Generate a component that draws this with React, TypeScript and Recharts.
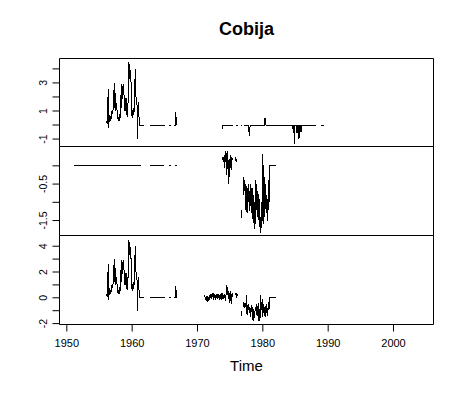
import { LineChart, Line, XAxis, YAxis, ReferenceArea } from 'recharts'

// time axis shared by all three panels
const xDomain: [number, number] = [1948.88, 2006.12]
const yearTicks = [1950, 1960, 1970, 1980, 1990, 2000]

// monthly values, Feb 1956 - Feb 1961 (same in top and bottom panel)
const early = [
  0.3, 0.1, 0.5, 2.6, -0.2, 0.6, 0.7, 0.5, 0.3, 0.9,
  1.0, 0.8, 1.1, 1.2, 3.0, 1.2, 2.3, 1.0, 1.6, 1.1,
  0.9, 0.4, 0.6, 0.3, 0.8, 0.5, 1.0, 2.9, 1.2, 2.8,
  2.0, 2.9, 2.3, 1.0, 1.6, 1.9, 0.7, 1.9, 0.6, 1.3,
  1.9, 4.5, 3.8, 3.3, 3.9, 3.0, 1.2, 0.5, 0.8, 1.2,
  0.7, 1.3, 3.0, 4.0, 2.0, 1.8, 1.4, -1.0, 1.6, 1.6,
  0.0,
]
const spike1966 = [0, 0, 0, 0.95, 0.2, 0]
const topDip1978 = [0, -0.8, -0.3, 0]
const topBump1980 = [0, 0.5, 0.15, 0]
const topDips1985 = [0, -0.6, 0, -1.35, 0, 0, 0, -0.55, -0.55, 0, 0, -0.95, -0.9, 0, 0, -0.45, -0.45, 0]

const midA = [0.15, 0.25, 0.1, 0.3, -0.05, 0.4, 0.1, 0.35, -0.25, 0.4, 0.05, -0.5, 0.2, -0.3, 0.3, 0.0, -0.1, 0.25, 0.15, 0.2]
const midB = [
  -0.3, -0.8, -0.4, -0.7, -0.5, -1.2, -0.55, -1.3, -0.6, -1.0,
  -0.5, -1.25, -0.7, -1.1, -0.5, -0.9, -1.28, -0.6, -1.5, -0.8,
  -1.73, -1.0, -1.6, -0.4, -1.2, -0.5, -1.4, -0.7, -1.1, -1.5,
  -0.9, -1.84, -1.4, -1.7, -1.0, -1.5, 0.33, -0.6, -1.6, -0.3,
  -0.9, -0.5, -1.3, -0.8, -1.5, -0.9, -1.2, -0.4, -1.0, 0.0,
]

const botA = [
  0.2, 0.0, -0.1, 0.15, -0.2, -0.3, 0.1, -0.1, -0.25, 0.2,
  -0.05, 0.3, -0.1, 0.25, 0.05, 0.4, -0.15, 0.35, 0.0, 0.3,
  -0.2, 0.2, 0.1, 0.3, -0.1, 0.25, 0.0, 0.2, -0.2, 0.15,
  0.3, -0.15, 0.4, 0.1, -0.1, 0.2, 0.05, 0.3, -0.25, 0.1,
  0.45, 1.0, 0.2, 0.6, -0.1, 0.4, -0.4, 0.5, 0.1, -0.5,
  0.3, 0.2, 0.4,
]
const botB = [
  -0.3, -0.7, -0.4, -0.8, -0.5, -0.6, 0.25, -1.3, -0.6, -0.9,
  -0.5, -1.2, -0.7, -1.5, -0.8, -1.1, -0.6, -1.7, -0.9, -1.8,
  -1.2, -1.6, -0.7, -1.0, -0.5, -1.3, -0.6, -1.4, -0.4, -1.8,
  -0.9, -1.6, 0.25, -0.9, -0.3, -1.5, -0.1, -1.2, -0.6, -1.4,
  -0.9, -1.5, -0.5, -1.2, -0.8, -1.4, -0.6, -0.3, -0.9, 0.0,
]

type Pair = [number, number]
type Pt = { t: number; v: number | null }

const monthly = (start: number, vals: number[]): Pair[] =>
  vals.map((v, i) => [start + i / 12, v] as Pair)

// join segments, a null point between them leaves a gap (NA)
function build(segs: Pair[][]): Pt[] {
  const out: Pt[] = []
  segs.forEach((s, i) => {
    if (i > 0) {
      const prev = segs[i - 1][segs[i - 1].length - 1][0]
      out.push({ t: (prev + s[0][0]) / 2, v: null })
    }
    s.forEach(([t, v]) => out.push({ t, v }))
  })
  return out
}

const topData = build([
  [...monthly(1956.08, early), [1961.75, 0]],
  [[1962.67, 0], [1965.0, 0]],
  [[1965.67, 0], [1966.0, 0]],
  monthly(1966.42, spike1966),
  [...monthly(1973.83, [-0.3, 0]), [1975.42, 0]],
  [[1975.83, 0], [1976.17, 0]],
  [[1976.67, 0], [1976.83, 0]],
  [
    [1977.17, 0],
    ...monthly(1977.83, topDip1978),
    ...monthly(1980.25, topBump1980),
    ...monthly(1984.58, topDips1985),
    [1988.17, 0],
  ],
  [[1988.83, 0], [1989.42, 0]],
])

const midData = build([
  [[1951.08, 0], [1961.42, 0]],
  [[1962.67, 0], [1964.83, 0]],
  [[1965.58, 0], [1966.0, 0]],
  [[1966.5, 0], [1966.92, 0]],
  monthly(1973.83, midA),
  monthly(1975.83, [0.25, 0.1, 0.2]),
  monthly(1976.67, [-1.2, -1.42]),
  [...monthly(1977.0, midB), [1982.0, 0]],
])

const botData = build([
  [...monthly(1956.08, early), [1961.75, 0]],
  [[1962.67, 0], [1965.0, 0]],
  [[1965.67, 0], [1966.0, 0]],
  monthly(1966.42, spike1966),
  monthly(1971.08, botA),
  monthly(1975.83, [0.2, 0.4, -0.05, 0.3]),
  monthly(1976.67, [-1.0, -1.4]),
  [...monthly(1977.0, botB), [1982.0, 0]],
])

const font = '"Liberation Sans", Arial, sans-serif'

function YTick(props: any) {
  const { x, y, payload, labels } = props
  if (!labels.includes(payload.value)) return null
  return (
    <text
      transform={`translate(${x - 4},${y}) rotate(-90)`}
      textAnchor="middle"
      fontSize={10.5}
      fontFamily={font}
      fill="#000"
    >
      {payload.value}
    </text>
  )
}

interface PanelProps {
  data: Pt[]
  top: number
  bottom: number
  yDomain: [number, number]
  yTicks: number[]
  yLabels: number[]
  showX?: boolean
}

function Panel({ data, top, bottom, yDomain, yTicks, yLabels, showX }: PanelProps) {
  const plotH = bottom - top
  const frac = top - Math.floor(top)
  const axisH = showX ? 40 : 0
  const height = Math.ceil(10 + frac + plotH + (showX ? 40 : 10))
  return (
    <div style={{ position: 'absolute', left: 0, top: Math.floor(top) - 10 }}>
      <LineChart
        width={458}
        height={height}
        data={data}
        margin={{ top: 10 + frac, right: 24.5, bottom: height - 10 - frac - plotH - axisH, left: 29.5 }}
      >
        <XAxis
          dataKey="t"
          type="number"
          domain={xDomain}
          allowDataOverflow
          hide={!showX}
          ticks={yearTicks}
          interval={0}
          height={40}
          axisLine={false}
          tickSize={7}
          tickMargin={8}
          tickLine={{ stroke: '#000' }}
          tick={{ fill: '#000', fontSize: 11, fontFamily: font }}
        />
        <YAxis
          type="number"
          domain={yDomain}
          allowDataOverflow
          ticks={yTicks}
          interval={0}
          width={30}
          axisLine={false}
          tickSize={7}
          tickLine={{ stroke: '#000' }}
          tick={<YTick labels={yLabels} />}
        />
        <ReferenceArea
          x1={xDomain[0]}
          x2={xDomain[1]}
          y1={yDomain[0]}
          y2={yDomain[1]}
          fill="none"
          stroke="#000"
          strokeWidth={1}
          fillOpacity={0}
          ifOverflow="visible"
        />
        <Line
          dataKey="v"
          stroke="#000"
          strokeWidth={1}
          shapeRendering="crispEdges"
          dot={false}
          activeDot={false}
          connectNulls={false}
          isAnimationActive={false}
        />
      </LineChart>
    </div>
  )
}

export default function App() {
  return (
    <div style={{ position: 'absolute', left: 0, top: 0, width: 458, height: 395, background: '#fff', fontFamily: font }}>
      <div style={{ position: 'absolute', left: 60, width: 373, top: 20, textAlign: 'center', fontSize: 18, lineHeight: '18px', fontWeight: 'bold' }}>
        Cobija
      </div>
      <Panel data={topData} top={58.5} bottom={146.5} yDomain={[-1.53, 4.74]} yTicks={[-1, 0, 1, 2, 3, 4]} yLabels={[-1, 1, 3]} />
      <Panel data={midData} top={146.5} bottom={235.5} yDomain={[-1.91, 0.53]} yTicks={[-1.5, -1, -0.5, 0]} yLabels={[-1.5, -0.5]} />
      <Panel data={botData} top={235.5} bottom={324.5} yDomain={[-2.07, 4.83]} yTicks={[-2, -1, 0, 1, 2, 3, 4]} yLabels={[-2, 0, 2, 4]} showX />
      <div style={{ position: 'absolute', left: 60, width: 373, top: 358, textAlign: 'center', fontSize: 15, lineHeight: '15px' }}>
        Time
      </div>
    </div>
  )
}
